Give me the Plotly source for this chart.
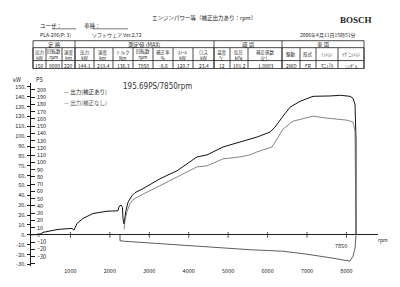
import plotly.graph_objects as go

# ---------------- data (read from the scanned dyno sheet) ----------------
rpm_corr = [0, 228, 304, 482, 558, 685, 1040, 1090, 1167, 1319, 1572, 1927, 2206, 2232, 2282, 2320,
            2333, 2359, 2410, 2460, 2560, 2637, 2840, 3271, 3703, 4032, 4210, 4463, 4869, 5300, 5731,
            6061, 6188, 6391, 6568, 6822, 7152, 7583, 7850, 8090, 8166, 8217, 8242, 8242]
ps_corr = [0, 0.7, 3.4, 5.2, 6.2, 7.5, 8.9, 6.6, 15.8, 22.6, 29.5, 32.6, 33.2, 39.0, 41.1, 37.7,
           22.6, 15.0, 34.0, 45.0, 54.0, 58.2, 63.7, 77.4, 88.4, 100.7, 107.5, 110.3, 121.2, 128.1, 134.9,
           141.8, 148.6, 163.7, 176.0, 184.2, 191.1, 191.6, 192.5, 191.1, 188.4, 180.0, 132.0, 0]

rpm_raw = [2359, 2384, 2435, 2511, 2587, 2840, 3271, 3779, 4210, 4463, 4869, 5300, 5554, 5731,
           6112, 6239, 6391, 6645, 7152, 7507, 7850, 8014, 8166, 8217, 8242]
ps_raw = [7.5, 19.9, 32.2, 43.2, 48.6, 56.2, 67.8, 81.5, 93.8, 95.2, 104.8, 107.5, 110.3, 114.4,
          121.2, 132.2, 145.9, 156.8, 163.7, 161.0, 159.0, 158.2, 155.5, 143.2, 0]

rpm_loss = [2257, 2257, 2384, 3449, 4286, 5554, 6391, 7000, 7659, 8014, 8090, 8166, 8217, 8242]
ps_loss = [0, -8.2, -8.9, -13.0, -15.8, -20.5, -22.6, -26.7, -32.2, -36.3, -36.3, -29.5, -18.5, -0.7]

ps_ticks = list(range(-40, 201, 10))
kw_ticks = list(range(-30, 151, 10))
kw_labels = [f"{v}." for v in kw_ticks]
rpm_ticks = [1000, 2000, 3000, 4000, 5000, 6000, 7000, 8000]
rpm_labels = [str(v) for v in rpm_ticks]
peak_rpm = 7850

legend_names = ["出力(補正あり)", "出力(補正なし)"]

sections = ["定 格", "測定値 (MAX)", "環 境", "車 両"]
col_heads = ["出力<br>kW", "回転数<br>rpm", "速度<br>km",
             "出力<br>kW", "速度<br>km", "トルク<br>Nm", "回転数<br>rpm", "補正率<br>%", "ﾎｲｰﾙ<br>kW", "ロス<br>kW",
             "温度<br>℃", "気圧<br>kPa", "補正係数<br>なし",
             "駆動", "形式", "ﾐｯｼｮﾝ", "ｲｸﾞﾆｯｼｮﾝ"]
col_vals = ["150", "9000", "220",
            "144.1", "219.4", "136.3", "7850", "-8.6", "120.7", "23.4",
            "12", "101.2", "1.0803",
            "2WD", "FR", "ﾏﾆｭｱﾙ", "ｼﾝｸﾞﾙ"]

# ---------------- geometry ----------------
W, H = 400, 287
X0, X1 = 31, 378
Y0, Y1 = 84, 268
PS_ZERO, PS_PX = 236.5, 0.73
ps_range = [-(Y1 - PS_ZERO) / PS_PX, (PS_ZERO - Y0) / PS_PX]
kw_range = [v / 1.36 for v in ps_range]

def px(x):
    return x / W

def py(y):
    return 1 - y / H

INK = "#1e1e1e"
CJK = "Noto Sans CJK JP"

fig = go.Figure()
fig.add_trace(go.Scatter(x=rpm_corr, y=ps_corr, mode="lines", line=dict(color="#111", width=1.0),
                         showlegend=False, hoverinfo="skip"))
fig.add_trace(go.Scatter(x=rpm_raw, y=ps_raw, mode="lines", line=dict(color="#666", width=0.8),
                         showlegend=False, hoverinfo="skip"))
fig.add_trace(go.Scatter(x=rpm_loss, y=ps_loss, mode="lines", line=dict(color="#333", width=0.8),
                         showlegend=False, hoverinfo="skip"))
fig.add_trace(go.Scatter(x=rpm_ticks, y=[0] * len(rpm_ticks), mode="markers",
                         marker=dict(symbol="line-ns-open", size=4, color=INK, line=dict(color=INK, width=0.8)),
                         showlegend=False, hoverinfo="skip"))
# kW axis carrier (invisible)
fig.add_trace(go.Scatter(x=[0], y=[0], yaxis="y2", mode="markers", marker=dict(opacity=0),
                         showlegend=False, hoverinfo="skip"))

tf = dict(family=CJK, size=5.5, color=INK)

fig.update_layout(
    width=W, height=H, margin=dict(l=0, r=0, t=0, b=0),
    paper_bgcolor="white", plot_bgcolor="white",
    xaxis=dict(domain=[px(X0), px(X1)], range=[0, 8800], tickvals=rpm_ticks, ticktext=rpm_labels,
               showgrid=False, zeroline=False, showline=False, ticks="", tickfont=tf),
    yaxis=dict(domain=[py(Y1), py(Y0)], range=ps_range, tickvals=ps_ticks,
               showgrid=False, showline=True, linecolor=INK, linewidth=1,
               zeroline=True, zerolinecolor=INK, zerolinewidth=1,
               ticks="inside", ticklen=4, tickcolor=INK, ticklabelposition="inside", tickfont=tf),
    yaxis2=dict(overlaying="y", side="left", anchor="x", range=kw_range, tickvals=kw_ticks,
                ticktext=kw_labels, showgrid=False, zeroline=False, showline=False,
                ticks="outside", ticklen=3, tickcolor=INK, tickfont=tf),
)

ann = []
def text(x, y, s, size=5.5, xa="left", ya="middle", color=INK, family=CJK):
    ann.append(dict(x=px(x), y=py(y), xref="paper", yref="paper", text=s, showarrow=False,
                    xanchor=xa, yanchor=ya, font=dict(size=size, color=color, family=family)))

# axis headers and labels
text(17, 81, "kW", xa="center")
text(39, 81, "PS", xa="center")
text(376, 242, "rpm", size=5)
ann.append(dict(x=peak_rpm, y=-(248 - PS_ZERO) / PS_PX, xref="x", yref="y", text=str(peak_rpm),
                showarrow=False, font=dict(size=5.5, color=INK, family=CJK)))

# legend
text(62, 93, "— " + legend_names[0], size=5.5)
text(62, 104, "— " + legend_names[1], size=5.5, color="#555")

# handwritten note
text(121, 87, "195.69PS/7850rpm", size=8, color="#333", family="DejaVu Sans Condensed")

# header
text(150, 18, "エンジンパワー等（補正出力あり：rpm）", size=5.5)
text(338, 20, "<b>BOSCH</b>", size=9, family="Liberation Serif")
text(38, 26, "ユーザ：", size=5.5)
text(82, 26, "車種：", size=5.5)
text(38, 35, "PLA-206(P: 3)", size=5)
text(90, 35, "ソフトウェア Ver.2.72", size=5)
text(298, 35, "2006年4月11日15時51分", size=5)

shapes = []
def line(xa, ya, xb, yb, w=0.8, color=INK):
    shapes.append(dict(type="line", xref="paper", yref="paper", x0=px(xa), y0=py(ya), x1=px(xb), y1=py(yb),
                       line=dict(color=color, width=w)))

line(52, 29, 76, 29, 0.6)
line(93, 29, 128, 29, 0.6)

# table
edges = [33, 46, 62, 75, 94, 113, 133, 153, 173, 193, 214, 230, 248, 282, 300, 316, 338, 364]
sec_edges = [33, 75, 214, 282, 364]
R0, R1, R2, R3 = 41, 48, 61, 69
for yy in (R0, R1, R2, R3):
    line(33, yy, 364, yy)
for xx in sec_edges:
    line(xx, R0, xx, R3)
for xx in edges:
    line(xx, R1, xx, R3)
for i, s in enumerate(sections):
    text((sec_edges[i] + sec_edges[i + 1]) / 2, (R0 + R1) / 2 + 0.5, s, size=5.5, xa="center")
for i in range(len(col_heads)):
    cx = (edges[i] + edges[i + 1]) / 2
    text(cx, (R1 + R2) / 2 + 0.5, col_heads[i], size=4.5, xa="center")
    text(cx, (R2 + R3) / 2 + 0.5, col_vals[i], size=5, xa="center")

fig.update_layout(annotations=ann, shapes=shapes)
fig.write_html("out.html")
